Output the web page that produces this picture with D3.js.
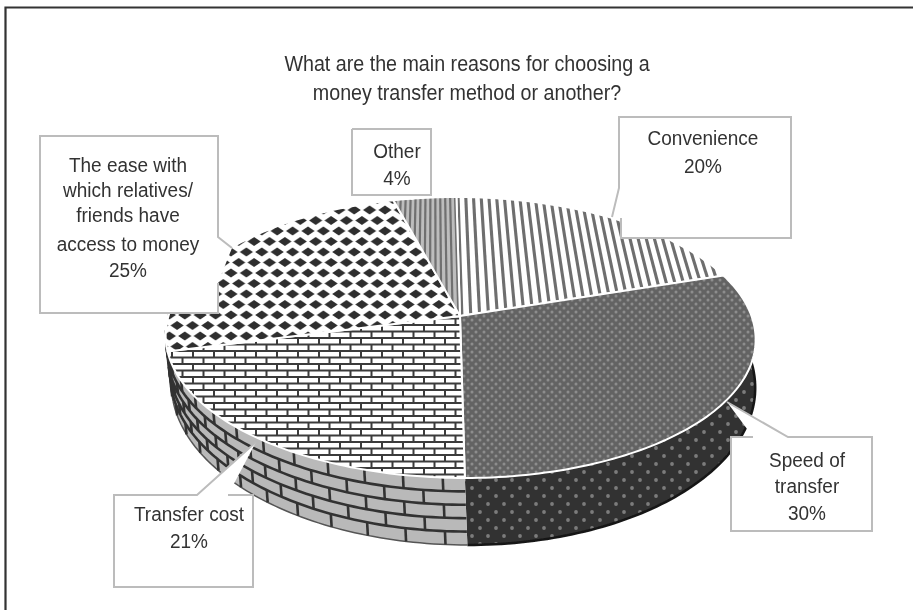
<!DOCTYPE html>
<html><head><meta charset="utf-8">
<script src="https://cdnjs.cloudflare.com/ajax/libs/d3/7.8.5/d3.min.js"></script>
<style>html,body{margin:0;padding:0;background:#fff}svg{display:block}text{font-family:"Liberation Sans",Arial,sans-serif;fill:#333}</style>
</head><body><svg id="c" width="913" height="610"></svg>
<script>
const titleLines=["What are the main reasons for choosing a","money transfer method or another?"];
const categories=["Convenience","Speed of transfer","Transfer cost","The ease with which relatives/ friends have access to money","Other"];
const values=[20,30,21,25,4];
const labelLines=[["Convenience","20%"],["Speed of","transfer","30%"],["Transfer cost","21%"],["The ease with","which relatives/","friends have","access to money","25%"],["Other","4%"]];

const svg=d3.select("#c");
const defs=svg.append("defs");
defs.append("filter").attr("id","soft").append("feGaussianBlur").attr("stdDeviation",0.55);
defs.append("filter").attr("id","softT").append("feGaussianBlur").attr("stdDeviation",0.3);

// perspective disc: plane coords (u right, v back) -> screen
const C={x:460,y:316,rx:291.5,ry:137.2,p:0.153,shear:0.03};
function proj(u,v){const w=1+C.p*v;const y=C.y-C.ry*v/w;return [C.x+C.rx*u/w+C.shear*(y-C.y),y];}
function rim(a){return proj(Math.sin(a),Math.cos(a));}
function lower(pt){return [460.6+(pt[0]-458)*292/295,385+(pt[1]-337)*160/141];}
const line=d3.line();
function arcPts(a0,a1,f){const n=Math.max(2,Math.ceil(Math.abs(a1-a0)/0.02));return d3.range(n+1).map(i=>f(a0+(a1-a0)*i/n));}
const arcs=d3.pie().sort(null).value(d=>d).startAngle(0).endAngle(2*Math.PI)(values);

// patterns
function pat(id,w,h,bg){const p=defs.append("pattern").attr("id",id).attr("patternUnits","userSpaceOnUse").attr("width",w).attr("height",h);
  p.append("rect").attr("width",w).attr("height",h).attr("fill",bg);return p;}
const dia=pat("pDia",15.4,21,"#fff");
[[0,0],[15.4,0],[0,21],[15.4,21],[7.7,10.5]].forEach(c=>dia.append("path").attr("fill","#2f2f2f")
  .attr("d",`M${c[0]-6.6},${c[1]}L${c[0]},${c[1]-4.6}L${c[0]+6.6},${c[1]}L${c[0]},${c[1]+4.6}Z`));
const bk=pat("pBrick",21,13,"#fff");
bk.append("path").attr("stroke","#3a3a3a").attr("stroke-width",2).attr("fill","none")
  .attr("d","M0,0H21M0,6.5H21M0,13H21M4,0V6.5M14.5,6.5V13");
const dt=pat("pDot",8,8,"#646464");
[[0,0],[8,0],[0,8],[8,8],[4,4]].forEach(c=>dt.append("circle").attr("cx",c[0]).attr("cy",c[1]).attr("r",1.5).attr("fill","#8d8d8d"));
const ds=pat("pDotS",16,16,"#303030");
[[0,0],[16,0],[0,16],[16,16],[8,8]].forEach(c=>ds.append("circle").attr("cx",c[0]).attr("cy",c[1]).attr("r",1.9).attr("fill","#7c7c7c"));

const pie=svg.append("g").attr("filter","url(#soft)");

// side walls
const sideRanges=[{a:arcs[1],from:Math.PI*0.47,fill:"url(#pDotS)",stroke:"#161616"},{a:arcs[2],from:null,fill:"#b9b9b9",stroke:"none"},{a:arcs[3],to:Math.PI*1.62,fill:"#b9b9b9",stroke:"none"}];
sideRanges.forEach(s=>{
  const a0=s.from!=null?s.from:s.a.startAngle, a1=s.to!=null?s.to:s.a.endAngle;
  const poly=arcPts(a0,a1,rim).concat(arcPts(a1,a0,a=>lower(rim(a))));
  pie.append("path").attr("d",line(poly)+"Z").attr("fill",s.fill);
  pie.append("path").attr("d",line(arcPts(a0,a1,a=>lower(rim(a))))).attr("fill","none").attr("stroke",s.stroke==="none"?"#555":s.stroke).attr("stroke-width",s.stroke==="none"?1.5:2.5);
});
// brick courses on the transfer-cost wall
const brickStep=6.7*Math.PI/180,courses=5;
const bA0=arcs[2].startAngle,bA1=Math.PI*1.62;
function wall(a,t){const p=rim(a),q=lower(p);return [p[0]+(q[0]-p[0])*t,p[1]+(q[1]-p[1])*t];}
const bricks=pie.append("g").attr("stroke","#333").attr("stroke-width",2.6).attr("fill","none");
d3.range(1,courses).forEach(i=>bricks.append("path").attr("d",line(arcPts(bA0,bA1,a=>wall(a,i/courses)))));
d3.range(courses).forEach(i=>{
  const off=(i%2)*brickStep/2;
  for(let a=bA0+brickStep*0.55+off;a<bA1;a+=brickStep)
    bricks.append("path").attr("d",line([wall(a,i/courses),wall(a,(i+1)/courses)]));
});

// top surfaces
arcs.forEach((d,i)=>{
  const outline=[proj(0,0)].concat(arcPts(d.startAngle,d.endAngle,rim));
  const id="clip"+i;
  defs.append("clipPath").attr("id",id).append("path").attr("d",line(outline)+"Z");
  const g=pie.append("g");
  const fill=["#fff","url(#pDot)","url(#pBrick)","url(#pDia)","#bdbdbd"][i];
  g.append("path").attr("d",line(outline)+"Z").attr("fill",fill);
  if(i===0||i===4){
    const lg=g.append("g").attr("clip-path",`url(#${id})`).attr("stroke",i===0?"#6e6e6e":"#6f6f6f").attr("stroke-width",i===0?3.1:2.2);
    const du=i===0?0.0305:0.0195;
    d3.range(-1,1.001,du).forEach(u=>lg.append("path").attr("d",line([proj(u,1.05),proj(u,-0.2)])));
  }
  g.append("path").attr("d",line(outline)+"Z").attr("fill","none").attr("stroke","#fff").attr("stroke-width",2);
});

// callouts: fill shape, visible outline
const callouts=[
 {fill:[[619,188],[612,217],[621,218],[621,238],[791,238],[791,117],[619,117]],
  stroke:[[612,217],[619,188],[619,117],[791,117],[791,238],[621,238],[621,218]],cx:703,ys:[145,173]},
 {fill:[[788,437],[872,437],[872,531],[731,531],[731,437],[753,437],[727,402]],
  stroke:[[727,402],[788,437],[872,437],[872,531],[731,531],[731,437],[753,437]],cx:807,ys:[467,493,520]},
 {fill:[[197,495],[114,495],[114,587],[253,587],[253,495],[228,495],[256,442]],
  stroke:[[256,442],[197,495],[114,495],[114,587],[253,587],[253,495],[228,495]],cx:189,ys:[521,548]},
 {fill:[[218,237],[218,136],[40,136],[40,313],[218,313],[218,283],[232,248]],
  stroke:[[232,248],[218,237],[218,136],[40,136],[40,313],[218,313],[218,283]],cx:128,ys:[172,197,222,251,277]},
 {fill:[[352,129],[431,129],[431,195],[425,195],[412,200],[398,195],[352,195]],
  stroke:[[352,129],[431,129],[431,195],[352,195],[352,129]],cx:397,ys:[158,185]}
];
const cg=svg.append("g");
callouts.forEach(c=>{
  cg.append("path").attr("d",line(c.fill)+"Z").attr("fill","#fff");
  cg.append("path").attr("d",line(c.stroke)).attr("fill","none").attr("stroke","#bcbcbc").attr("stroke-width",2).attr("filter","url(#softT)");
});
const tg=svg.append("g").attr("filter","url(#softT)");
function condensed(x,y,size,sx,t){tg.append("text").attr("transform",`translate(${x},${y}) scale(${sx},1)`).attr("text-anchor","middle").attr("font-size",size).text(t);}
callouts.forEach((c,i)=>labelLines[i].forEach((t,j)=>condensed(c.cx,c.ys[j],21,0.905,t)));
[71,100].forEach((y,i)=>condensed(467,y,22.5,0.875,titleLines[i]));

// frame
svg.append("path").attr("d","M5.5,610V7.5H913").attr("fill","none").attr("stroke","#333").attr("stroke-width",2.2);
</script></body></html>
